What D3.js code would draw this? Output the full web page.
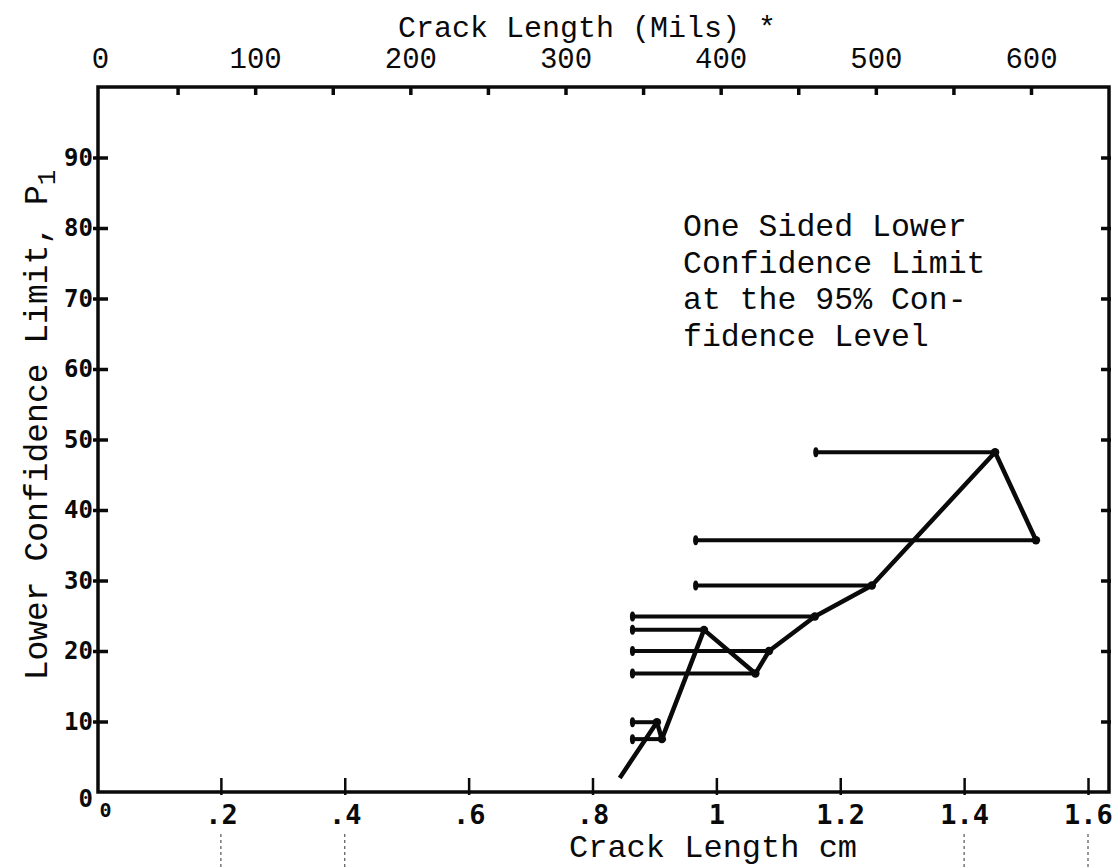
<!DOCTYPE html>
<html><head><meta charset="utf-8">
<script src="https://cdn.jsdelivr.net/npm/d3@7/dist/d3.min.js"></script>
<style>
html,body{margin:0;padding:0;background:#fff;}
svg{display:block;}
</style></head><body>
<svg id="chart" width="1113" height="868"></svg>
<script>
// ---- data ----
const cmTicks = [0, 0.2, 0.4, 0.6, 0.8, 1.0, 1.2, 1.4, 1.6];
const cmTickLabels = ["0", ".2", ".4", ".6", ".8", "1", "1.2", "1.4", "1.6"];
const milTicks = [0, 50, 100, 150, 200, 250, 300, 350, 400, 450, 500, 550, 600];
const milLabels = [0, 100, 200, 300, 400, 500, 600];
const pTicks = [0, 10, 20, 30, 40, 50, 60, 70, 80, 90];
// polyline of lower confidence limit vs crack length (cm)
const crackCm    = [0.844, 0.904, 0.912, 0.980, 1.063, 1.085, 1.159, 1.251, 1.450, 1.516];
const lowerLimit = [2.0,   9.9,   7.5,   23.0,  16.8,  20.0,  24.9,  29.3,  48.2,  35.7];
// left end of the horizontal interval bar attached to each vertex (null = no bar)
const barStartCm = [null,  0.863, 0.863, 0.863, 0.863, 0.863, 0.863, 0.965, 1.159, 0.965];
const noteLines = ["One Sided Lower", "Confidence Limit", "at the 95% Con-", "fidence Level"];
const topTitle = "Crack Length (Mils) *";
const bottomTitle = "Crack Length cm";
const leftTitle = "Lower Confidence Limit, P";

// ---- layout ----
const frame = {left: 98, right: 1109, top: 87, bottom: 792};
const x = d3.scaleLinear().domain([0, 1.6]).range([97, 1088]);
const xm = d3.scaleLinear().domain([0, 600]).range([100, 1031]);
const y = d3.scaleLinear().domain([0, 100]).range([792, 87]);

const svg = d3.select("#chart");
const ink = "#0a0a0a";
const mono = "'Liberation Mono', 'DejaVu Sans Mono', monospace";
const dot = "'DejaVu Sans Mono', 'Liberation Mono', monospace";

// scan artifacts: faint dashed verticals below the axis
svg.append("g").selectAll("line").data([0.2, 0.4, 1.4, 1.6]).join("line")
  .attr("x1", d => x(d)).attr("x2", d => x(d))
  .attr("y1", 834).attr("y2", 868)
  .attr("stroke", "#555").attr("stroke-width", 1.2).attr("stroke-dasharray", "3,3");

// frame
svg.append("rect")
  .attr("x", frame.left).attr("y", frame.top)
  .attr("width", frame.right - frame.left).attr("height", frame.bottom - frame.top)
  .attr("fill", "none").attr("stroke", ink).attr("stroke-width", 3.5);

// bottom axis (cm)
const gB = svg.append("g").attr("transform", `translate(0,${y(0)})`)
  .call(d3.axisBottom(x).tickValues(cmTicks)
        .tickFormat((d, i) => cmTickLabels[i]).tickSizeInner(-14).tickSizeOuter(0).tickPadding(13));
gB.select(".domain").remove();
gB.selectAll(".tick line").attr("stroke", ink).attr("stroke-width", 2.5).attr("y1", 3)
  .filter(d => d === 0).remove();
gB.selectAll(".tick text").attr("font-family", dot).attr("font-weight", "bold")
  .attr("font-size", 27).attr("fill", ink).attr("dy", "0.71em");
gB.selectAll(".tick text").filter(d => d === 0).attr("font-size", 20).attr("dx", 8).attr("dy", "0.6em");

// top axis (mils)
const gT = svg.append("g").attr("transform", `translate(0,${frame.top})`)
  .call(d3.axisTop(xm).tickValues(milTicks)
        .tickFormat(d => milLabels.includes(d) ? d3.format("d")(d) : "")
        .tickSizeInner(7).tickSizeOuter(0).tickPadding(12));
gT.select(".domain").remove();
gT.selectAll(".tick line").attr("stroke", ink).attr("stroke-width", 3.5).attr("y2", 8)
  .filter(d => d === 0).remove();
gT.selectAll(".tick text").attr("font-family", mono).attr("font-size", 29).attr("fill", ink);

// left axis (P1)
const gL = svg.append("g").attr("transform", `translate(${frame.left},0)`)
  .call(d3.axisLeft(y).tickValues(pTicks).tickSizeInner(-10).tickSizeOuter(0).tickPadding(5));
gL.select(".domain").remove();
gL.selectAll(".tick line").attr("stroke", ink).attr("stroke-width", 3.5).attr("x2", 10).attr("x1", -5)
  .filter(d => d === 0).remove();
gL.selectAll(".tick text").attr("font-family", dot).attr("font-weight", "bold")
  .attr("font-size", 24).attr("fill", ink);
gL.selectAll(".tick text").filter(d => d === 0).attr("dy", "0.6em");

// right axis (unlabelled ticks)
const gR = svg.append("g").attr("transform", `translate(${frame.right},0)`)
  .call(d3.axisRight(y).tickValues(pTicks.filter(d => d > 0)).tickSizeInner(-8).tickSizeOuter(0).tickFormat(""));
gR.select(".domain").remove();
gR.selectAll(".tick line").attr("stroke", ink).attr("stroke-width", 3.5).attr("x2", -8).attr("x1", 2);

// titles
svg.append("text").attr("x", 398).attr("y", 37)
  .attr("font-family", mono).attr("font-size", 30).attr("fill", ink).text(topTitle);
svg.append("text").attr("x", 569).attr("y", 857)
  .attr("font-family", mono).attr("font-size", 32).attr("fill", ink).text(bottomTitle);
const lt = svg.append("text")
  .attr("transform", "translate(47,425) rotate(-90)")
  .attr("text-anchor", "middle")
  .attr("font-family", mono).attr("font-size", 33).attr("fill", ink);
lt.append("tspan").text(leftTitle);
lt.append("tspan").attr("dy", 8).attr("font-size", 26).text("1");

// annotation
svg.append("g").selectAll("text").data(noteLines).join("text")
  .attr("x", 683).attr("y", (d, i) => 236 + i * 36.5)
  .attr("font-family", mono).attr("font-size", 31.5).attr("fill", ink)
  .style("white-space", "pre")
  .text(d => d);

// interval bars
const idx = d3.range(crackCm.length).filter(i => barStartCm[i] !== null);
svg.append("g").selectAll("line").data(idx).join("line")
  .attr("x1", i => x(barStartCm[i])).attr("x2", i => x(crackCm[i]))
  .attr("y1", i => y(lowerLimit[i])).attr("y2", i => y(lowerLimit[i]))
  .attr("stroke", ink).attr("stroke-width", 4);
// left end caps
svg.append("g").selectAll("ellipse").data(idx).join("ellipse")
  .attr("cx", i => x(barStartCm[i]) + 1).attr("cy", i => y(lowerLimit[i]))
  .attr("rx", 2.6).attr("ry", 5).attr("fill", ink);

// polyline
const pts = crackCm.map((c, i) => [c, lowerLimit[i]]);
svg.append("path").datum(pts)
  .attr("d", d3.line().x(d => x(d[0])).y(d => y(d[1])))
  .attr("fill", "none").attr("stroke", ink).attr("stroke-width", 4.5)
  .attr("stroke-linejoin", "round");
svg.append("g").selectAll("circle").data(pts.slice(1)).join("circle")
  .attr("cx", d => x(d[0])).attr("cy", d => y(d[1])).attr("r", 4.2).attr("fill", ink);
</script>
</body></html>
